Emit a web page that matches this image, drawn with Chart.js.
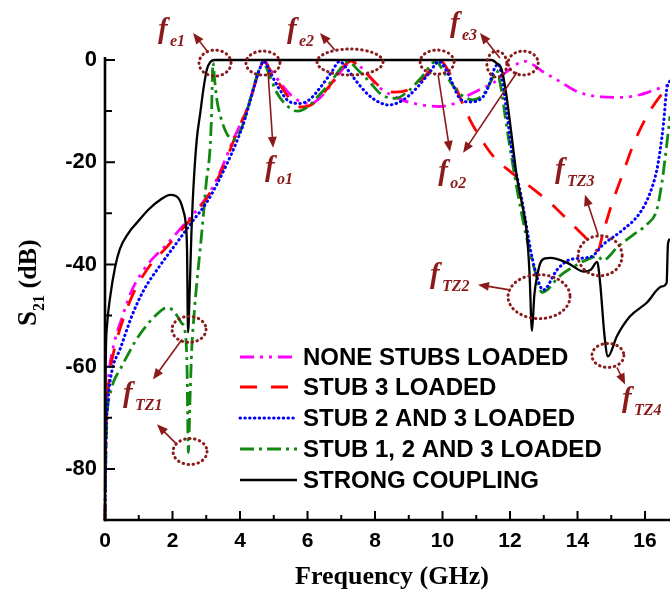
<!DOCTYPE html>
<html>
<head>
<meta charset="utf-8">
<script src="https://cdn.jsdelivr.net/npm/chart.js@4.4.0/dist/chart.umd.min.js"></script>
<style>
  html, body { margin: 0; padding: 0; background: #fff; }
  canvas { display: block; }
</style>
</head>
<body>
<canvas id="s21" width="670" height="594"></canvas>
<script>
// S21 response (GHz, dB) for each loading case
const noneFreq = [0, 0.02, 0.06, 0.12, 0.25, 0.5, 0.8, 1.3, 1.8, 2.3, 2.8, 3.2, 3.5, 3.8, 4.05, 4.25, 4.45, 4.6, 4.7,
  4.9, 5.2, 5.5, 5.8, 6.1, 6.4, 6.8, 7.1, 7.35, 7.6, 8.1, 8.8, 9.4, 9.9, 10.4, 10.8, 11.2, 11.5, 11.9, 12.2, 12.4,
  12.7, 13.0, 13.4, 14.0, 14.7, 15.35, 15.85, 16.3, 16.74];
const noneDb = [-90, -75, -66, -61, -56, -50.5, -45, -39.7, -36.3, -32.5, -28.7, -24.8, -20.5, -15.6, -12, -8.8, -4.5, -1.5, -0.2,
  -1.8, -4.5, -6.8, -8.2, -8.5, -7.2, -4, -1.3, -0.3, -1.5, -5.2, -7.8, -8.8, -9.1, -8.4, -6.8, -5.5, -4.5, -2.3, -0.8, -0.2,
  -1, -2.4, -3.9, -6.2, -7.2, -7.3, -6.8, -5.8, -4.8];

const stub3Freq = [0, 0.02, 0.07, 0.15, 0.3, 0.55, 0.85, 1.3, 1.8, 2.3, 2.8, 3.2, 3.5, 3.8, 4.05, 4.25, 4.45, 4.6, 4.7,
  4.9, 5.2, 5.5, 5.8, 6.1, 6.4, 6.8, 7.1, 7.3, 7.5, 7.8, 8.2, 8.6, 9.0, 9.4, 9.7, 9.95, 10.2, 10.5, 10.8, 11.1, 11.5,
  12.0, 12.6, 13.2, 13.7, 14.2, 14.6, 14.75, 15.0, 15.3, 15.7, 16.1, 16.4, 16.74];
const stub3Db = [-90, -76, -67, -61, -56, -50.5, -45.5, -40.5, -36.8, -33, -29, -25, -21, -16, -12, -9, -4.5, -1.5, -0.2,
  -2, -5, -7.8, -9.2, -8.8, -7, -3.8, -1, -0.2, -1.2, -3, -5.5, -6.3, -5.8, -3.8, -1.5, -0.2, -2.5, -7, -11.5, -15, -18.8,
  -21.8, -24.8, -28, -31.2, -34.5, -37.3, -34, -28.5, -23, -15.8, -10.5, -7.5, -5];

const stub23Freq = [0, 0.03, 0.1, 0.2, 0.45, 0.8, 1.15, 1.6, 2.1, 2.6, 3.0, 3.3, 3.6, 3.9, 4.1, 4.3, 4.45, 4.6, 4.7,
  4.9, 5.15, 5.45, 5.75, 6.05, 6.4, 6.7, 6.95, 7.2, 7.45, 7.8, 8.1, 8.4, 8.7, 9.0, 9.3, 9.6, 9.9, 10.15, 10.5, 10.8,
  11.2, 11.4, 11.5, 11.65, 11.75, 11.85, 12.05, 12.35, 12.65, 12.85, 12.98, 13.4, 13.8, 14.4, 14.76, 15.35, 15.85,
  16.15, 16.35, 16.45, 16.55, 16.64, 16.74];
const stub23Db = [-90, -75, -66, -61, -56.5, -50, -45, -40.5, -36, -31.5, -28, -24.5, -20.5, -16, -12.5, -8, -4.5, -1.5, -0.2,
  -2.5, -5.5, -8.1, -8.5, -7.8, -5.2, -2.5, -0.3, -2, -4.2, -6.8, -8.2, -8.8, -8.3, -7, -5, -2.6, -0.3, -2.5, -7.4, -8.2,
  -7.2, -4.5, -2.3, -0.8, -3, -7.5, -17.5, -27.3, -38.5, -43.5, -45, -41, -39, -38.5, -36.1, -33.2, -29.9,
  -26, -21.5, -17.6, -12.3, -5.9, -4];

const stub123Freq = [0, 0.02, 0.06, 0.15, 0.25, 0.45, 0.65, 0.9, 1.14, 1.45, 1.73, 1.85, 2.0, 2.13, 2.27, 2.37, 2.43, 2.47,
  2.52, 2.57, 2.65, 2.72, 2.82, 2.91, 3.0, 3.11, 3.15, 3.2, 3.25, 3.32, 3.42, 3.6, 3.8, 4.06, 4.3, 4.53, 4.68,
  4.9, 5.1, 5.4, 5.7, 6.0, 6.3, 6.7, 7.0, 7.2, 7.5, 7.8, 8.2, 8.6, 9.0, 9.4, 9.8, 10.1, 10.5, 10.9, 11.2, 11.45, 11.6,
  11.72, 11.9, 12.2, 12.5, 12.75, 12.95, 13.1, 13.45, 14.0, 14.3, 14.6, 14.75, 15.2, 15.65, 16.05, 16.35, 16.5,
  16.6, 16.74];
const stub123Db = [-90, -80, -70, -65.5, -63, -60.5, -58, -55, -52.7, -50.3, -48.7, -48.5, -48.9, -50, -51.5, -53, -60, -76.8,
  -66, -56.6, -49, -43.6, -37, -30.7, -24, -17.6, -12, -0.6, -4, -8, -11, -14.3, -15.6, -13.1, -7.8, -2.5, -0.5,
  -3.5, -6.5, -9, -10, -9.2, -7.2, -4.2, -1.5, -0.3, -2, -4, -6.8, -7.5, -6, -3.2, -0.3, -3, -6.5, -7.8, -6.8, -4, -2,
  -5, -13, -25, -35, -41.5, -45.5, -45, -42.4, -40, -39, -38.4, -39.2, -36.5, -34.2, -32.2, -29.3, -24,
  -19, -11];

const strongFreq = [0.005, 0.02, 0.06, 0.15, 0.3, 0.44, 0.7, 0.95, 1.3, 1.65, 1.93, 2.1, 2.22, 2.32, 2.39, 2.43, 2.46,
  2.51, 2.56, 2.62, 2.72, 2.82, 2.92, 3.02, 3.12, 3.25, 11.45, 11.6, 11.76, 11.9, 12.1, 12.2, 12.35, 12.5, 12.58,
  12.65, 12.72, 12.8, 12.9, 13.05, 13.2, 13.7, 14.2, 14.4, 14.58, 14.67, 14.8, 14.9, 15.17, 15.55, 16.05, 16.5,
  16.64, 16.68, 16.74];
const strongDb = [-80, -60, -52, -46.5, -40.5, -37, -33.8, -31.8, -29.2, -27.3, -26.4, -26.6, -27.5, -29.5, -32, -37, -53.3,
  -45, -34, -25, -15.5, -10.5, -5.5, -1.8, -0.4, 0, 0, -0.6, -2, -7.2, -17.6, -22.8, -28, -34, -42,
  -53, -46, -42.4, -39.7, -38.8, -38.7, -39.7, -41.4, -41, -39.5, -43.6, -54, -58, -54, -50.2, -47.5, -44.3,
  -43.6, -36, -35];

const legendLabels = ['NONE STUBS LOADED', 'STUB 3 LOADED', 'STUB 2 AND 3 LOADED', 'STUB 1, 2 AND 3 LOADED', 'STRONG COUPLING'];

// tick values on both axes (labels only on the even ones)
const freqTicks = [0, 1, 2, 3, 4, 5, 6, 7, 8, 9, 10, 11, 12, 13, 14, 15, 16];
const dbTicks = [0, -10, -20, -30, -40, -50, -60, -70, -80, -90];

// annotation marks, positioned in (GHz, dB)
const rings = [
  { f: 3.26, db: -0.6, rx: 16, ry: 13 },
  { f: 4.68, db: -0.6, rx: 17, ry: 12 },
  { f: 7.26, db: -0.4, rx: 33, ry: 13 },
  { f: 9.84, db: -0.4, rx: 17, ry: 12 },
  { f: 11.61, db: -0.8, rx: 10, ry: 13 },
  { f: 12.39, db: -0.6, rx: 15, ry: 12 },
  { f: 14.67, db: -38.3, rx: 22, ry: 20 },
  { f: 12.86, db: -46.3, rx: 31, ry: 22 },
  { f: 14.9, db: -57.8, rx: 16, ry: 12 },
  { f: 2.49, db: -52.7, rx: 17, ry: 13 },
  { f: 2.52, db: -76.6, rx: 17, ry: 13 }
];
const arrows = [
  [3.05, 1.56, 2.61, 5.27],
  [6.81, 1.95, 6.37, 5.27],
  [11.70, 0.39, 11.11, 5.27],
  [4.83, -2.34, 4.98, -17.19],
  [9.87, -2.93, 10.22, -17.97],
  [12.21, -2.34, 10.61, -18.16],
  [14.61, -34.18, 14.22, -26.37],
  [11.94, -44.92, 11.05, -43.95],
  [15.17, -60.16, 15.41, -63.48],
  [2.28, -54.69, 1.42, -62.5],
  [2.13, -75.2, 1.54, -71.29]
];
const tags = [
  { f: 1.57, db: 4.3, sub: 'e1' },
  { f: 5.39, db: 4.3, sub: 'e2' },
  { f: 10.22, db: 5.47, sub: 'e3' },
  { f: 4.74, db: -22.66, sub: 'o1' },
  { f: 9.87, db: -23.44, sub: 'o2' },
  { f: 13.33, db: -23.05, sub: 'TZ3' },
  { f: 9.63, db: -43.55, sub: 'TZ2' },
  { f: 0.53, db: -66.99, sub: 'TZ1' },
  { f: 15.32, db: -67.97, sub: 'TZ4' }
];

const MAROON = '#8b1a1a';
const SANS = '"Liberation Sans", Arial, sans-serif';
const SERIF = '"Liberation Serif", "Times New Roman", serif';

function series(label, freq, db, color, dash, width, order) {
  return {
    label: label,
    data: freq.map((f, i) => ({ x: f, y: db[i] })),
    borderColor: color,
    borderDash: dash,
    borderWidth: width,
    borderCapStyle: dash.length === 2 && dash[0] < 1 ? 'round' : 'butt',
    pointRadius: 0,
    fill: false,
    cubicInterpolationMode: 'monotone',
    clip: 4,
    order: order
  };
}

const datasets = [
  series(legendLabels[0], noneFreq, noneDb, '#ff00ff', [14, 6, 3, 6, 3, 6], 2.8, 4),
  series(legendLabels[1], stub3Freq, stub3Db, '#ff0000', [17, 14], 2.8, 3),
  series(legendLabels[2], stub23Freq, stub23Db, '#0000ff', [0.5, 4.3], 3, 1),
  series(legendLabels[3], stub123Freq, stub123Db, '#118811', [14, 5, 3, 5], 2.8, 2),
  series(legendLabels[4], strongFreq, strongDb, '#000000', [], 2.3, 0)
];

function drawArrow(ctx, x1, y1, x2, y2) {
  const a = Math.atan2(y2 - y1, x2 - x1);
  const head = 11, half = 4.5;
  const cx = Math.cos(a), sy = Math.sin(a);
  ctx.beginPath();
  ctx.moveTo(x1, y1);
  ctx.lineTo(x2 - head * 0.7 * cx, y2 - head * 0.7 * sy);
  ctx.stroke();
  ctx.beginPath();
  ctx.moveTo(x2, y2);
  ctx.lineTo(x2 - head * cx + half * sy, y2 - head * sy - half * cx);
  ctx.lineTo(x2 - head * cx - half * sy, y2 - head * sy + half * cx);
  ctx.closePath();
  ctx.fill();
}

const decorations = {
  id: 'decorations',
  afterDatasetsDraw(chart) {
    const { ctx, chartArea: area, scales: { x, y } } = chart;
    ctx.save();

    // axis lines and inward ticks
    ctx.strokeStyle = '#000';
    ctx.setLineDash([]);
    ctx.lineWidth = 2.6;
    ctx.beginPath();
    ctx.moveTo(area.left, area.top - 3);
    ctx.lineTo(area.left, area.bottom);
    ctx.lineTo(area.right, area.bottom);
    ctx.stroke();
    ctx.lineWidth = 2;
    ctx.beginPath();
    freqTicks.forEach(v => {
      const p = x.getPixelForValue(v);
      ctx.moveTo(p, area.bottom);
      ctx.lineTo(p, area.bottom - (v % 2 === 0 ? 9 : 5));
    });
    dbTicks.forEach(v => {
      const p = y.getPixelForValue(v);
      ctx.moveTo(area.left, p);
      ctx.lineTo(area.left + (v % 20 === 0 ? 10 : 7), p);
    });
    ctx.stroke();

    // axis titles
    ctx.fillStyle = '#000';
    ctx.font = 'bold 26px ' + SERIF;
    ctx.textAlign = 'center';
    ctx.textBaseline = 'alphabetic';
    ctx.fillText('Frequency (GHz)', 392, 584);

    ctx.save();
    ctx.translate(36, 326);
    ctx.rotate(-Math.PI / 2);
    ctx.textAlign = 'left';
    ctx.font = 'bold 27px ' + SERIF;
    ctx.fillText('S', 0, 0);
    let w = ctx.measureText('S').width;
    ctx.font = 'bold 16px ' + SERIF;
    ctx.fillText('21', w, 8);
    w += ctx.measureText('21').width;
    ctx.font = 'bold 26px ' + SERIF;
    ctx.fillText(' (dB)', w, 0);
    ctx.restore();

    // legend
    const rows = [357, 387, 418, 449, 480];
    chart.data.datasets.forEach((ds, i) => {
      ctx.strokeStyle = ds.borderColor;
      ctx.lineWidth = ds.borderWidth;
      ctx.lineCap = ds.borderCapStyle;
      ctx.setLineDash(ds.borderDash);
      ctx.beginPath();
      ctx.moveTo(240, rows[i]);
      ctx.lineTo(297, rows[i]);
      ctx.stroke();
      ctx.setLineDash([]);
      ctx.lineCap = 'butt';
      ctx.fillStyle = '#000';
      ctx.font = 'bold 24px ' + SANS;
      ctx.textAlign = 'left';
      ctx.textBaseline = 'middle';
      ctx.fillText(ds.label, 303, rows[i] + 1);
    });

    // dotted rings around the marked frequencies
    ctx.strokeStyle = MAROON;
    ctx.fillStyle = MAROON;
    ctx.lineWidth = 3;
    ctx.lineCap = 'round';
    ctx.setLineDash([0.5, 4.5]);
    rings.forEach(r => {
      ctx.beginPath();
      ctx.ellipse(x.getPixelForValue(r.f), y.getPixelForValue(r.db), r.rx, r.ry, 0, 0, Math.PI * 2);
      ctx.stroke();
    });

    ctx.setLineDash([]);
    ctx.lineCap = 'butt';
    ctx.lineWidth = 1.6;
    arrows.forEach(a => {
      drawArrow(ctx, x.getPixelForValue(a[0]), y.getPixelForValue(a[1]),
        x.getPixelForValue(a[2]), y.getPixelForValue(a[3]));
    });

    ctx.textAlign = 'left';
    ctx.textBaseline = 'alphabetic';
    tags.forEach(t => {
      const px = x.getPixelForValue(t.f), py = y.getPixelForValue(t.db);
      ctx.font = 'italic bold 29px ' + SERIF;
      ctx.fillText('f', px, py);
      ctx.font = 'italic bold 16px ' + SERIF;
      ctx.fillText(t.sub, px + 12, py + 8);
    });

    ctx.restore();
  }
};

new Chart(document.getElementById('s21'), {
  type: 'line',
  data: { datasets: datasets },
  options: {
    responsive: false,
    animation: false,
    layout: { padding: { top: 60, left: 0, right: 0, bottom: 0 } },
    plugins: { legend: { display: false }, tooltip: { enabled: false } },
    scales: {
      x: {
        type: 'linear',
        min: 0,
        max: 16.74,
        afterFit: s => { s.height = 74; },
        afterBuildTicks: s => { s.ticks = freqTicks.map(v => ({ value: v })); },
        grid: { display: false, drawTicks: false },
        border: { display: false },
        ticks: {
          autoSkip: false,
          maxRotation: 0,
          padding: 9,
          color: '#000',
          font: { family: SANS, size: 21, weight: 'bold' },
          callback: v => (v % 2 === 0 ? v : '')
        }
      },
      y: {
        min: -90,
        max: 0,
        afterFit: s => { s.width = 105; },
        afterBuildTicks: s => { s.ticks = dbTicks.map(v => ({ value: v })); },
        grid: { display: false, drawTicks: false },
        border: { display: false },
        ticks: {
          autoSkip: false,
          padding: 8,
          color: '#000',
          font: { family: SANS, size: 22, weight: 'bold' },
          callback: v => (v % 20 === 0 ? v : '')
        }
      }
    }
  },
  plugins: [decorations]
});
</script>
</body>
</html>
